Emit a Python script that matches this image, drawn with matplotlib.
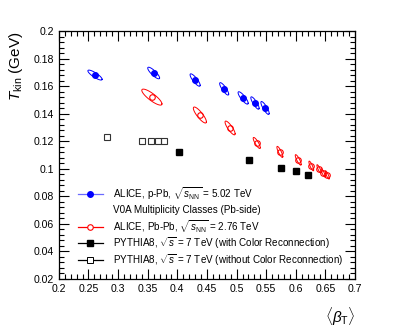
import matplotlib.pyplot as plt
import numpy as np
from matplotlib.ticker import MultipleLocator

plt.rcParams['font.family'] = ['Liberation Sans', 'DejaVu Sans']
plt.rcParams['mathtext.fontset'] = 'custom'
plt.rcParams['mathtext.rm'] = 'Liberation Sans'
plt.rcParams['mathtext.it'] = 'Liberation Sans:italic'

# DATOS
# -----
# ALICE p-Pb 5.02 TeV
ppb_beta = [0.261, 0.360, 0.430, 0.479, 0.511, 0.531, 0.548]
ppb_tkin = [0.168, 0.1695, 0.1644, 0.158, 0.1514, 0.1477, 0.1441]
ppb_sx = [0.012, 0.010, 0.0085, 0.0076, 0.0085, 0.007, 0.007]
ppb_sy = [0.0036, 0.0042, 0.0045, 0.0045, 0.0045, 0.0045, 0.0047]

# ALICE Pb-Pb 2.76 TeV
pbpb_beta = [0.357, 0.438, 0.489, 0.534, 0.573, 0.604, 0.626, 0.639, 0.646, 0.653]
pbpb_tkin = [0.152, 0.139, 0.1296, 0.1187, 0.1122, 0.1064, 0.102, 0.0999, 0.097, 0.0955]
pbpb_sx = [0.017, 0.011, 0.0085, 0.006, 0.005, 0.005, 0.004, 0.0035, 0.0035, 0.0035]
pbpb_sy = [0.0058, 0.0058, 0.005, 0.004, 0.004, 0.0038, 0.0035, 0.003, 0.003, 0.003]

# PYTHIA8 con y sin color reconnection
cr_beta = [0.403, 0.521, 0.575, 0.601, 0.621]
cr_tkin = [0.112, 0.1064, 0.1006, 0.0984, 0.0955]
nocr_beta = [0.281, 0.341, 0.356, 0.368, 0.378]
nocr_tkin = [0.123, 0.120, 0.120, 0.120, 0.120]

rho = -0.85


def elipse(x0, y0, sx, sy, r):
    '''
    Contorno de la elipse de incertidumbre correlacionada
    '''
    t = np.linspace(0, 2 * np.pi, 120)
    ex = x0 + sx * np.cos(t)
    ey = y0 + sy * (r * np.cos(t) + np.sqrt(1 - r**2) * np.sin(t))
    return ex, ey


fig = plt.figure(figsize=(3.95, 3.32), dpi=100)
ax = fig.add_axes([0.149, 0.16, 0.750, 0.7466])

azul = '#0000ff'
rojo = '#ff0000'

for x, y, sx, sy in zip(ppb_beta, ppb_tkin, ppb_sx, ppb_sy):
    ex, ey = elipse(x, y, sx, sy, rho)
    ax.plot(ex, ey, color=azul, lw=0.7)
ax.plot(ppb_beta, ppb_tkin, 'o', color=azul, ms=4, ls='none')

for x, y, sx, sy in zip(pbpb_beta, pbpb_tkin, pbpb_sx, pbpb_sy):
    ex, ey = elipse(x, y, sx, sy, rho)
    ax.plot(ex, ey, color=rojo, lw=0.7)
ax.plot(pbpb_beta, pbpb_tkin, 'o', mfc='none', mec=rojo, mew=0.8, ms=4, ls='none')

ax.plot(cr_beta, cr_tkin, 's', color='black', ms=4.5, ls='none')
ax.plot(nocr_beta, nocr_tkin, 's', mfc='none', mec='#333333', mew=0.8, ms=4.5, ls='none')

ax.set_xlim(0.2, 0.7)
ax.set_ylim(0.02, 0.2)
ax.xaxis.set_major_locator(MultipleLocator(0.05))
ax.xaxis.set_minor_locator(MultipleLocator(0.01))
ax.yaxis.set_major_locator(MultipleLocator(0.02))
ax.yaxis.set_minor_locator(MultipleLocator(0.004))
ax.tick_params(which='both', direction='in', top=True, right=True, labelsize=7.6, width=0.8)
ax.tick_params(which='major', length=7)
ax.tick_params(which='minor', length=3.5)
ax.tick_params(axis='x', pad=4)
ax.xaxis.set_major_formatter(plt.FuncFormatter(lambda v, p: ('%g' % round(v, 3))))
ax.yaxis.set_major_formatter(plt.FuncFormatter(lambda v, p: ('%g' % round(v, 3))))
for s in ax.spines.values():
    s.set_linewidth(0.9)

ax.text(1.0, -0.11, r'$\langle\beta_{\rm T}\rangle$', transform=ax.transAxes,
        ha='right', va='top', fontsize=11)
fig.text(0.04, 0.905, r'$T_{\rm kin}$ (GeV)', rotation=90, ha='center', va='top', fontsize=11)

# Leyenda manual
filas = [
    (r'ALICE, p-Pb, $\sqrt{s_{\rm NN}}$ = 5.02 TeV', '#6a6aff', dict(marker='o', color=azul, ms=4)),
    ('V0A Multiplicity Classes (Pb-side)', None, None),
    (r'ALICE, Pb-Pb, $\sqrt{s_{\rm NN}}$ = 2.76 TeV', rojo, dict(marker='o', mfc='white', mec=rojo, ms=4, mew=0.8)),
    (r'PYTHIA8, $\sqrt{s}$ = 7 TeV (with Color Reconnection)', 'black', dict(marker='s', color='black', ms=4)),
    (r'PYTHIA8, $\sqrt{s}$ = 7 TeV (without Color Reconnection)', 'black', dict(marker='s', mfc='white', mec='black', ms=4, mew=0.7)),
]
y0 = 0.343
for i, (txt, col, mk) in enumerate(filas):
    yy = y0 - i * 0.0665
    if col is not None:
        ax.plot([0.064, 0.148], [yy, yy], color=col, lw=0.9, transform=ax.transAxes)
        ax.plot([0.106], [yy], transform=ax.transAxes, ls='none', **mk)
    ax.text(0.183, yy, txt, transform=ax.transAxes, va='center', ha='left', fontsize=7.1)

fig.savefig('out.png', dpi=100)
